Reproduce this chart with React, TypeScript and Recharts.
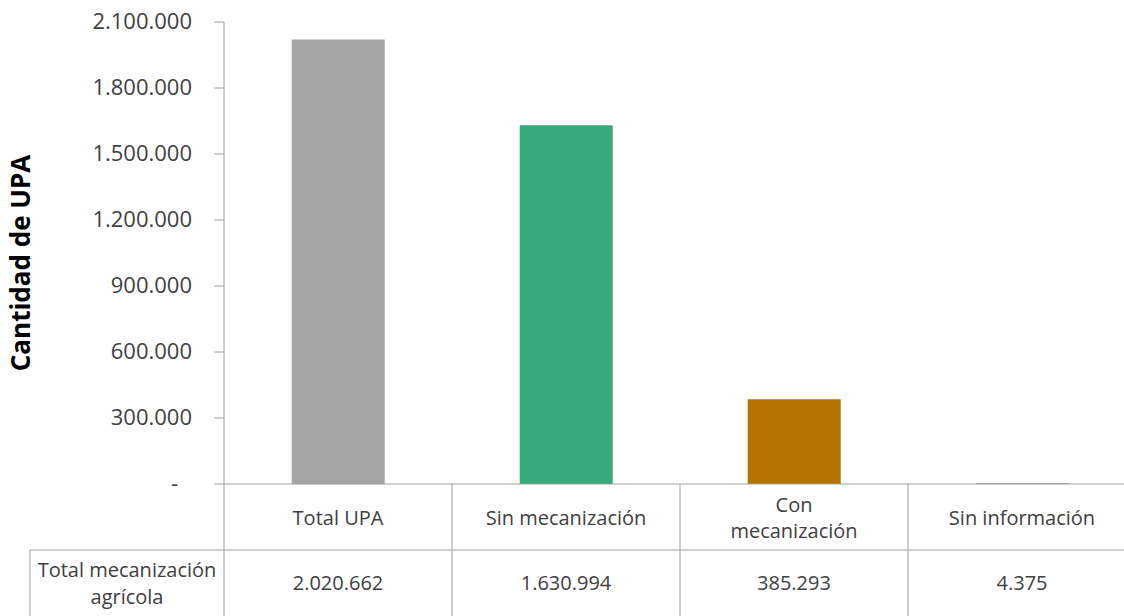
import React from "react";
import { BarChart, Bar, XAxis, YAxis, Cell } from "recharts";

const categories = ["Total UPA", "Sin mecanización", "Con mecanización", "Sin información"];
const headerLines = [["Total UPA"], ["Sin mecanización"], ["Con", "mecanización"], ["Sin información"]];
const values = [2020662, 1630994, 385293, 4375];
const colors = ["#a5a5a5", "#37aa7c", "#b57300", "#a5a5a5"];
const yTicks = [0, 300000, 600000, 900000, 1200000, 1500000, 1800000, 2100000];
const rowTitle = ["Total mecanización", "agrícola"];
const yLabel = "Cantidad de UPA";

const data = categories.map((c, i) => ({ name: c, value: values[i] }));

const CHART_W = 1136;
const CHART_H = 640;
const Y_W = 224;
const BAND = (CHART_W - Y_W) / categories.length;
const FONT = "'Open Sans', 'Noto Sans', sans-serif";
const TXT = "#404040";
const LINE = "#a0a0a0";

const fmt = (v: number) => String(Math.round(v)).replace(/\B(?=(\d{3})+(?!\d))/g, ".");

function YTick(props: any) {
  const { x, y, payload } = props;
  const isZero = payload.value === 0;
  return (
    <text x={isZero ? x - 14 : x} y={y} dy={7} textAnchor="end" fill={TXT} fontSize={22} fontFamily={FONT}>
      {isZero ? "-" : fmt(payload.value)}
    </text>
  );
}

function YLabel(props: any) {
  const { viewBox } = props;
  const cx = 20;
  const cy = viewBox.y + viewBox.height / 2 + 10;
  return (
    <text
      x={cx}
      y={cy}
      transform={`rotate(-90, ${cx}, ${cy})`}
      textAnchor="middle"
      dominantBaseline="central"
      fontSize={26}
      fontWeight={700}
      fill="#000"
      fontFamily={FONT}
    >
      {yLabel}
    </text>
  );
}

function XTick(props: any) {
  const { x, y, payload, index } = props;
  const lines = headerLines[index] || [payload.value];
  const left = x - BAND / 2;
  const rowY = y + 66;
  return (
    <g>
      <line x1={left} y1={y} x2={left} y2={y + 200} stroke={LINE} strokeWidth={1} />
      <line x1={left} y1={rowY} x2={left + BAND} y2={rowY} stroke={LINE} strokeWidth={1} />
      {lines.map((l: string, i: number) => (
        <text
          key={i}
          x={x}
          y={y + 34 + (i - (lines.length - 1) / 2) * 26}
          dy={7}
          textAnchor="middle"
          fill={TXT}
          fontSize={20}
          fontFamily={FONT}
        >
          {l}
        </text>
      ))}
      <text x={x} y={rowY + 33} dy={7} textAnchor="middle" fill={TXT} fontSize={20} fontFamily={FONT}>
        {fmt(values[index])}
      </text>
      {index === 0 && (
        <g>
          <line x1={left - 194} y1={rowY} x2={left} y2={rowY} stroke={LINE} strokeWidth={1} />
          <line x1={left - 194} y1={rowY} x2={left - 194} y2={rowY + 200} stroke={LINE} strokeWidth={1} />
          {rowTitle.map((l, i) => (
            <text
              key={i}
              x={left - 97}
              y={rowY + 20 + i * 27}
              dy={7}
              textAnchor="middle"
              fill={TXT}
              fontSize={20}
              fontFamily={FONT}
            >
              {l}
            </text>
          ))}
        </g>
      )}
    </g>
  );
}

export default function App() {
  return (
    <div style={{ position: "absolute", left: 0, top: 0, width: 1124, height: 616, overflow: "hidden", background: "#fff" }}>
      <BarChart
        width={CHART_W}
        height={CHART_H}
        data={data}
        margin={{ top: 22, right: 0, left: 0, bottom: 0 }}
        barCategoryGap="29.7%"
      >
        <YAxis
          width={Y_W}
          domain={[0, 2100000]}
          ticks={yTicks}
          interval={0}
          tick={<YTick />}
          tickSize={10}
          tickMargin={22}
          axisLine={{ stroke: LINE }}
          tickLine={{ stroke: LINE }}
          label={<YLabel />}
        />
        <XAxis
          dataKey="name"
          height={CHART_H - 484}
          tick={<XTick />}
          tickSize={0}
          tickMargin={0}
          interval={0}
          axisLine={{ stroke: LINE }}
          tickLine={false}
        />
        <Bar dataKey="value" isAnimationActive={false}>
          {data.map((d, i) => (
            <Cell key={d.name} fill={colors[i]} />
          ))}
        </Bar>
      </BarChart>
    </div>
  );
}
